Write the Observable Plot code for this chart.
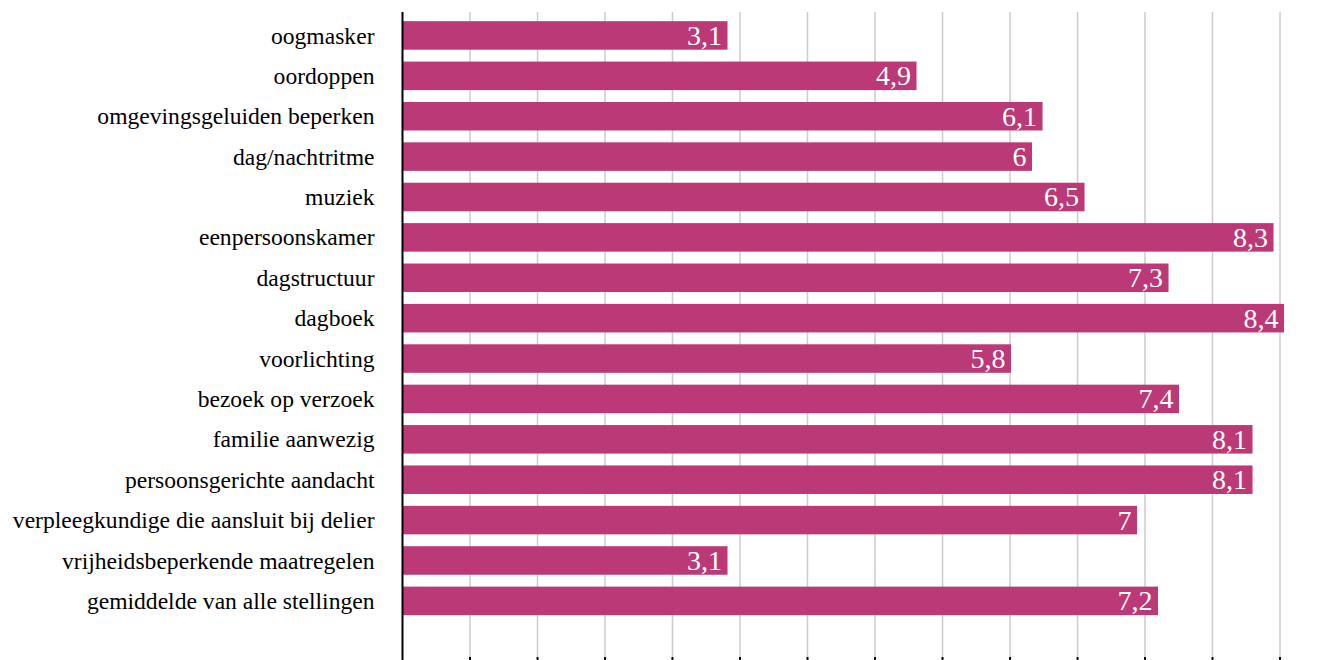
<!DOCTYPE html>
<html>
<head>
<meta charset="utf-8">
<script src="https://cdn.jsdelivr.net/npm/d3@7"></script>
<script src="https://cdn.jsdelivr.net/npm/@observablehq/plot@0.6"></script>
<style>
  html, body { margin: 0; padding: 0; background: #fff; overflow: hidden; }
</style>
</head>
<body>
<div id="chart"></div>
<script>
const categories = [
  "oogmasker",
  "oordoppen",
  "omgevingsgeluiden beperken",
  "dag/nachtritme",
  "muziek",
  "eenpersoonskamer",
  "dagstructuur",
  "dagboek",
  "voorlichting",
  "bezoek op verzoek",
  "familie aanwezig",
  "persoonsgerichte aandacht",
  "verpleegkundige die aansluit bij delier",
  "vrijheidsbeperkende maatregelen",
  "gemiddelde van alle stellingen"
];
const values = [3.1, 4.9, 6.1, 6, 6.5, 8.3, 7.3, 8.4, 5.8, 7.4, 8.1, 8.1, 7, 3.1, 7.2];
const xTicks = [0, 0.643, 1.286, 1.929, 2.571, 3.214, 3.857, 4.5, 5.143, 5.786, 6.429, 7.071, 7.714, 8.357];

const data = categories.map((c, i) => ({label: c, value: values[i]}));
const fmt = v => String(v).replace(".", ",");
const serif = "Liberation Serif, Times New Roman, serif";

const chart = Plot.plot({
  width: 1338,
  height: 700,
  marginLeft: 402,
  marginRight: 0,
  marginTop: 12,
  marginBottom: 43,
  style: {fontFamily: serif, fontSize: "23.6px", color: "#000", background: "#fff"},
  x: {domain: [0, 8.914], ticks: xTicks},
  y: {domain: categories, paddingInner: 0.294, paddingOuter: 0.632, align: 0.18, round: false, axis: null},
  marks: [
    Plot.ruleX(xTicks.slice(1), {stroke: "#cccccc", strokeWidth: 1.5}),
    Plot.barX(data, {x: "value", y: "label", fill: "#bb3976"}),
    Plot.text(data, {x: "value", y: "label", text: d => fmt(d.value), textAnchor: "end", dx: -6, fill: "#fff", fontSize: 28, fontFamily: serif}),
    Plot.text(data, {y: "label", text: "label", frameAnchor: "left", textAnchor: "end", dx: -28, fill: "#000", fontSize: 23.6, fontFamily: serif}),
    Plot.ruleX([0], {stroke: "#000", strokeWidth: 2}),
    Plot.axisX({ticks: xTicks, tickSize: 6, tickFormat: () => "", stroke: "#000", strokeWidth: 2, label: null})
  ]
});
document.getElementById("chart").appendChild(chart);
</script>
</body>
</html>
